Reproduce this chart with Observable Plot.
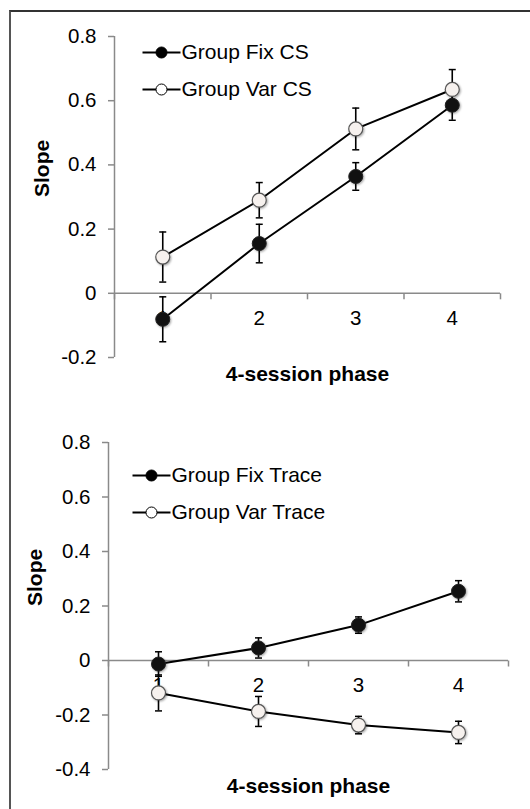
<!DOCTYPE html>
<html>
<head>
<meta charset="utf-8">
<script src="https://cdn.jsdelivr.net/npm/d3@7"></script>
<script src="https://cdn.jsdelivr.net/npm/@observablehq/plot@0.6"></script>
<style>
  html, body { margin: 0; padding: 0; background: #fff; }
  #wrap { position: relative; width: 530px; height: 809px; overflow: hidden; font-family: "Liberation Sans", Arial, sans-serif; }
  #frame { position: absolute; left: 9px; top: 10px; width: 600px; height: 900px; border-top: 2px solid #333; border-left: 2px solid #555; box-sizing: border-box; }
  #wrap svg { display: block; overflow: visible; }
  .mk circle { filter: drop-shadow(1px 1px 1px rgba(0,0,0,0.35)); }
</style>
</head>
<body>
<div id="wrap"><div id="frame"></div></div>
<script>
// ---- data ----
const phases = [1, 2, 3, 4];
const phaseLabels = ["1", "2", "3", "4"];

const fixCS     = [-0.081, 0.155, 0.364, 0.586];
const fixCSErr  = [0.070, 0.060, 0.043, 0.047];
const varCS     = [0.113, 0.290, 0.512, 0.635];
const varCSErr  = [0.078, 0.055, 0.065, 0.062];

const fixTrace    = [-0.013, 0.046, 0.130, 0.254];
const fixTraceErr = [0.045, 0.037, 0.030, 0.039];
const varTrace    = [-0.119, -0.187, -0.237, -0.264];
const varTraceErr = [0.066, 0.055, 0.032, 0.041];

const yTicksCS    = [-0.2, 0, 0.2, 0.4, 0.6, 0.8];
const yTicksTrace = [-0.4, -0.2, 0, 0.2, 0.4, 0.6, 0.8];

const legendCS    = ["Group Fix CS", "Group Var CS"];
const legendTrace = ["Group Fix Trace", "Group Var Trace"];

const yLabel = "Slope";
const xLabel = "4-session phase";

// ---- helpers ----
const capSymbol = { draw(ctx, size) { const w = Math.sqrt(size / Math.PI); ctx.moveTo(-w, 0); ctx.lineTo(w, 0); } };
const tickDown  = { draw(ctx, size) { const h = Math.sqrt(size / Math.PI); ctx.moveTo(0, 0); ctx.lineTo(0, h); } };

const axisGray = "#8a8a8a";
const varFill = "#f6f1ee";

function rows(vals, errs) {
  return phases.map((p, i) => ({ x: p, y: vals[i], lo: vals[i] - errs[i], hi: vals[i] + errs[i] }));
}

function panel(opt) {
  const fix = rows(opt.fix, opt.fixErr);
  const vr = rows(opt.var, opt.varErr);
  const xDomain = [phases[0] - 0.5, phases[phases.length - 1] + 0.5];
  const edges = d3.range(phases.length + 1).map(i => xDomain[0] + i);
  const yDomain = [opt.yTicks[0], opt.yTicks[opt.yTicks.length - 1]];
  const errMarks = (data) => [
    Plot.ruleX(data, { x: "x", y1: "lo", y2: "hi", stroke: "black", strokeWidth: 1.6 }),
    Plot.dot(data, { x: "x", y: "lo", symbol: capSymbol, r: 3.5, stroke: "black", fill: "none", strokeWidth: 1.5 }),
    Plot.dot(data, { x: "x", y: "hi", symbol: capSymbol, r: 3.5, stroke: "black", fill: "none", strokeWidth: 1.5 })
  ];
  const legendMarks = opt.legend.flatMap((name, i) => [
    Plot.dot([name], { frameAnchor: "top-left", dx: opt.lgDx, dy: opt.lgDy[i], symbol: capSymbol, r: 19, stroke: "black", strokeWidth: 2, fill: "none" }),
    Plot.dot([name], { frameAnchor: "top-left", dx: opt.lgDx, dy: opt.lgDy[i], r: 5.5, fill: i === 0 ? "black" : "white", stroke: "black", strokeWidth: 1 }),
    Plot.text([name], { frameAnchor: "top-left", dx: opt.lgDx + 20, dy: opt.lgDy[i], textAnchor: "start", lineAnchor: "middle", fontSize: 21, fill: "black" })
  ]);
  return Plot.plot({
    width: 530,
    height: opt.height,
    marginTop: opt.mt,
    marginBottom: opt.mb,
    marginLeft: opt.ml,
    marginRight: opt.mr,
    style: { fontFamily: "'Liberation Sans', Arial, sans-serif", background: "transparent", overflow: "visible" },
    x: { domain: xDomain, axis: null },
    y: { domain: yDomain, axis: null },
    marks: [
      // axes
      Plot.ruleX([xDomain[0]], { y1: yDomain[0], y2: yDomain[1], stroke: axisGray, strokeWidth: 1.5 }),
      Plot.axisY({ ticks: opt.yTicks, tickFormat: d => String(d), tickSize: 6, tickPadding: 12, stroke: axisGray, strokeWidth: 1.5, fill: "black", fontSize: 20.5, label: null }),
      Plot.ruleY([0], { x1: xDomain[0], x2: xDomain[1], stroke: axisGray, strokeWidth: 1.5 }),
      Plot.dot(edges, { x: d => d, y: () => 0, symbol: tickDown, r: 6, stroke: axisGray, fill: "none", strokeWidth: 1.5 }),
      Plot.text(phases, { x: d => d, y: () => 0, text: (d, i) => phaseLabels[i], dy: 25, fontSize: 20.5, fill: "black" }),
      // axis titles
      Plot.text([yLabel], { frameAnchor: "left", dx: opt.yLabelDx, rotate: -90, fontSize: 21, fontWeight: "bold", fill: "black" }),
      Plot.text([xLabel], { frameAnchor: "bottom", dy: 17, lineAnchor: "middle", fontSize: 21, fontWeight: "bold", fill: "black" }),
      // error bars
      ...errMarks(vr),
      ...errMarks(fix),
      // lines
      Plot.line(fix, { x: "x", y: "y", stroke: "black", strokeWidth: 2 }),
      Plot.line(vr, { x: "x", y: "y", stroke: "black", strokeWidth: 2 }),
      // markers
      Plot.dot(fix, { x: "x", y: "y", r: 7, fill: "#111", stroke: "#222", strokeWidth: 1, className: "mk" }),
      Plot.dot(vr, { x: "x", y: "y", r: 7, fill: varFill, stroke: "#555", strokeWidth: 1.2, className: "mk" }),
      // legend
      ...legendMarks
    ]
  });
}

const wrap = document.getElementById("wrap");

const topPanel = panel({
  fix: fixCS, fixErr: fixCSErr, var: varCS, varErr: varCSErr,
  yTicks: yTicksCS, legend: legendCS,
  height: 400, mt: 36, mb: 43, ml: 114, mr: 30,
  yLabelDx: -72, lgDx: 47, lgDy: [16, 53]
});
topPanel.style.position = "absolute"; topPanel.style.left = "0px"; topPanel.style.top = "0px";
wrap.appendChild(topPanel);

const bottomPanel = panel({
  fix: fixTrace, fixErr: fixTraceErr, var: varTrace, varErr: varTraceErr,
  yTicks: yTicksTrace, legend: legendTrace,
  height: 409, mt: 42, mb: 40, ml: 108, mr: 22,
  yLabelDx: -73, lgDx: 43, lgDy: [33, 70]
});
bottomPanel.style.position = "absolute"; bottomPanel.style.left = "0px"; bottomPanel.style.top = "400px";
wrap.appendChild(bottomPanel);
</script>
</body>
</html>
